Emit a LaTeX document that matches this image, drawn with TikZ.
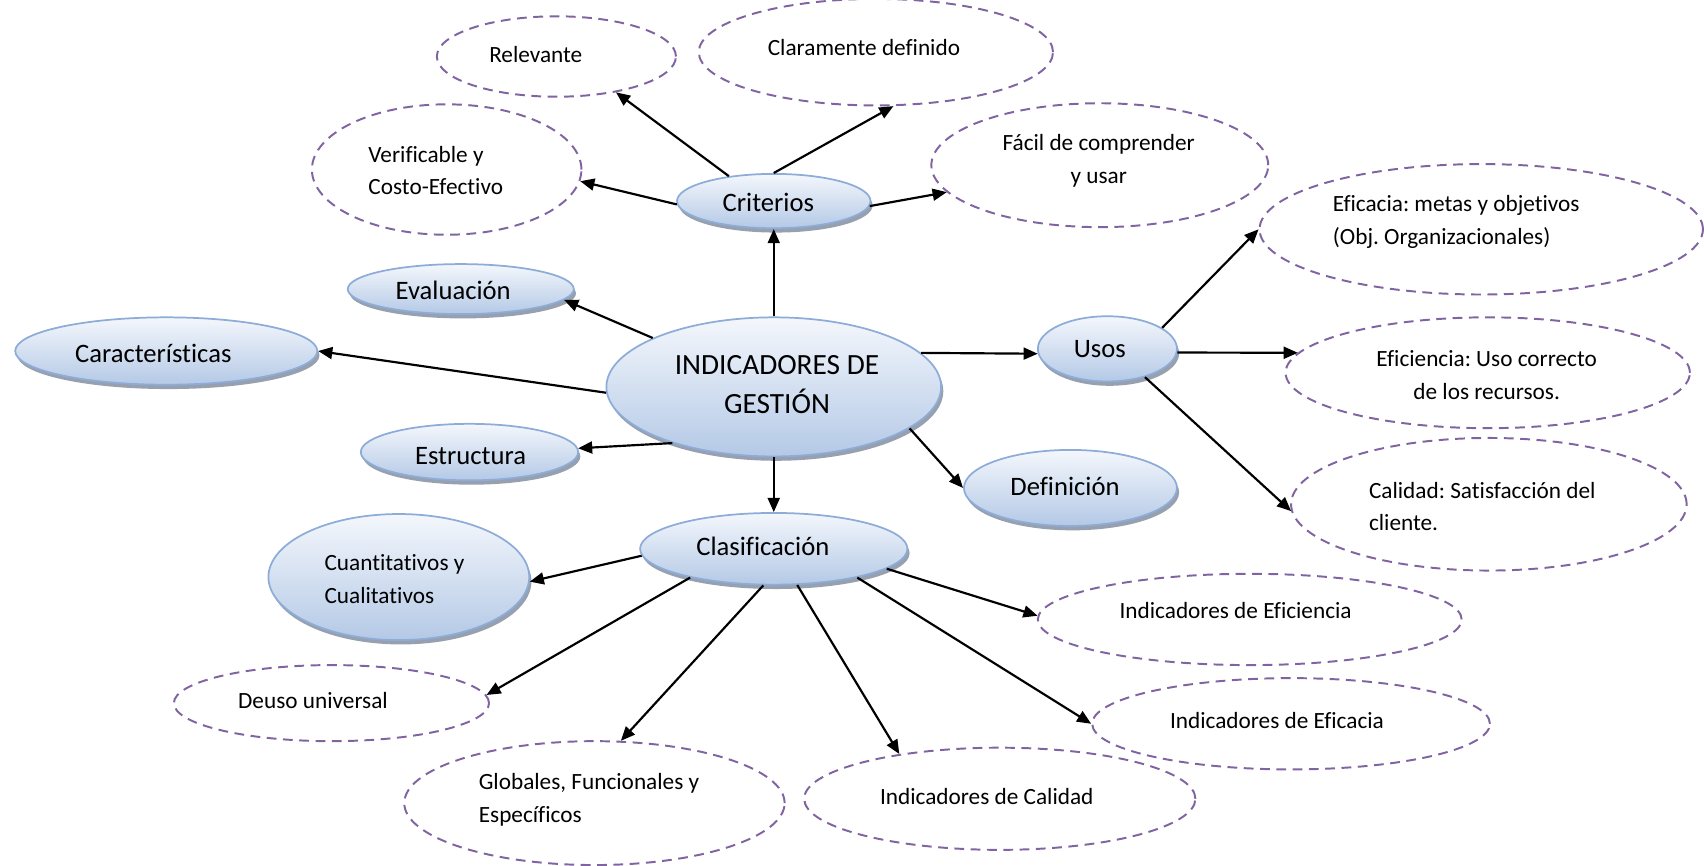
\documentclass[tikz,border=0pt]{standalone}
\usepackage{fontspec}
\setmainfont{Carlito}[Ligatures=CommonOff]
\frenchspacing
\usetikzlibrary{shapes.geometric,arrows.meta,shadows}

\definecolor{bluetop}{RGB}{244,247,252}
\definecolor{bluebot}{RGB}{180,201,230}
\definecolor{bluebrd}{RGB}{141,172,216}
\definecolor{shadowgray}{RGB}{150,160,174}
\definecolor{dashpurple}{RGB}{128,100,162}

\tikzset{
  blueell/.style={ellipse, draw=bluebrd, line width=1.6pt,
    top color=bluetop, bottom color=bluebot, inner sep=0pt,
    drop shadow={shadow xshift=2pt, shadow yshift=-4pt, fill=shadowgray, opacity=1}},
  dashell/.style={ellipse, draw=dashpurple, line width=1.8pt,
    dash pattern=on 9pt off 6pt, inner sep=0pt},
  smalltxt/.style={inner sep=0pt, align=left,
    font=\fontsize{21.4pt}{30pt}\selectfont},
  smallctr/.style={smalltxt, align=center},
  bluetxt/.style={inner sep=0pt, align=center,
    font=\fontsize{24.5pt}{30pt}\selectfont},
  bigtxt/.style={inner sep=0pt, align=center,
    font=\fontsize{27pt}{36pt}\selectfont},
  conn/.style={line width=2pt, -{Triangle[length=13pt,width=11pt]}}
}

\begin{document}
\begin{tikzpicture}[x=1pt, y=-1pt]
\useasboundingbox (0,0) rectangle (1568,796);

% concept nodes (shaded)
\node[blueell, minimum width=178pt, minimum height=50pt]  (crit) at (712,185) {};
\node[blueell, minimum width=208pt, minimum height=46pt]  (eval) at (424,266) {};
\node[blueell, minimum width=278pt, minimum height=62pt]  (car)  at (153,323) {};
\node[blueell, minimum width=308pt, minimum height=128pt] (ind)  at (712,356) {};
\node[blueell, minimum width=200pt, minimum height=52pt]  (est)  at (432,416) {};
\node[blueell, minimum width=128pt, minimum height=60pt]  (usos) at (1019,321) {};
\node[blueell, minimum width=196pt, minimum height=70pt]  (def)  at (985,449) {};
\node[blueell, minimum width=246pt, minimum height=66pt]  (cla)  at (712,505) {};
\node[blueell, minimum width=240pt, minimum height=116pt] (cuan) at (367,531) {};

\node[bluetxt] (critT) at (707,186) {Criterios};
\node[bluetxt] (evalT) at (417,267) {Evaluación};
\node[bluetxt] (carT)  at (141,325) {Características};
\node[bigtxt]  (indT)  at (715,354) {INDICADORES DE\\GESTIÓN};
\node[bluetxt] (estT)  at (433,420) {Estructura};
\node[bluetxt] (usosT) at (1012,321) {Usos};
\node[bluetxt] (defT)  at (980,448) {Definición};
\node[bluetxt] (claT)  at (702,503) {Clasificación};
\node[smalltxt] (cuanT) at (363,533) {Cuantitativos y\\Cualitativos};

% detail nodes (dashed)
\node[dashell, minimum width=220pt, minimum height=74pt]  (rel)  at (512,52) {};
\node[dashell, minimum width=326pt, minimum height=98pt]  (clar) at (806,48) {};
\node[dashell, minimum width=248pt, minimum height=120pt] (ver)  at (411,156) {};
\node[dashell, minimum width=310pt, minimum height=114pt] (fac)  at (1012,152) {};
\node[dashell, minimum width=408pt, minimum height=120pt] (efc)  at (1363,211) {};
\node[dashell, minimum width=372pt, minimum height=102pt] (efi)  at (1369,343) {};
\node[dashell, minimum width=364pt, minimum height=122pt] (cal)  at (1370,464) {};
\node[dashell, minimum width=390pt, minimum height=84pt]  (iefi) at (1150,570) {};
\node[dashell, minimum width=290pt, minimum height=70pt]  (deu)  at (305,647) {};
\node[dashell, minimum width=366pt, minimum height=84pt]  (iefa) at (1188,666) {};
\node[dashell, minimum width=350pt, minimum height=114pt] (glo)  at (547,739) {};
\node[dashell, minimum width=360pt, minimum height=94pt]  (ical) at (920,735) {};

\node[smalltxt] (relT)  at (493,50)   {Relevante};
\node[smalltxt] (clarT) at (795,44)   {Claramente definido};
\node[smalltxt] (verT)  at (401,157)  {Verificable y\\Costo-Efectivo};
\node[smallctr] (facT)  at (1011,148) {Fácil de comprender\\y usar};
\node[smalltxt] (efcT)  at (1340,204) {Eficacia: metas y objetivos\\(Obj. Organizacionales)};
\node[smallctr] (efiT)  at (1368,345) {Eficiencia: Uso correcto\\de los recursos.};
\node[smalltxt] (calT)  at (1364,466) {Calidad: Satisfacción del\\cliente.};
\node[smalltxt] (iefiT) at (1137,562) {Indicadores de Eficiencia};
\node[smalltxt] (deuT)  at (288,645)  {Deuso universal};
\node[smalltxt] (iefaT) at (1175,663) {Indicadores de Eficacia};
\node[smalltxt] (gloT)  at (542,736)  {Globales, Funcionales y\\Específicos};
\node[smalltxt] (icalT) at (908,733)  {Indicadores de Calidad};

% connectors
\draw[conn] (ind.north) -- (crit.south);
\draw[conn] (crit.151) -- (rel.-31);
\draw[conn] (crit.north) -- (clar.-72);
\draw[conn] (crit.182) -- (ver.-5);
\draw[conn] (crit.-3) -- (fac.190);
\draw[conn] (ind.158) -- (eval.-6);
\draw[conn] (ind.182) -- (car.east);
\draw[conn] (ind.209) -- (est.2);
\draw[conn] (ind.13) -- (usos.184);
\draw[conn] (ind.-17) -- (def.west);
\draw[conn] (ind.south) -- (cla.north);
\draw[conn] (usos.21) -- (efc.west);
\draw[conn] (usos.-3) -- (efi.174);
\draw[conn] (usos.-37) -- (cal.182);
\draw[conn] (cla.183) -- (cuan.-2);
\draw[conn] (cla.199) -- (deu.3);
\draw[conn] (cla.254) -- (glo.67);
\draw[conn] (cla.-57) -- (ical.156);
\draw[conn] (cla.-19) -- (iefa.180);
\draw[conn] (cla.-10) -- (iefi.179);
\end{tikzpicture}
\end{document}
